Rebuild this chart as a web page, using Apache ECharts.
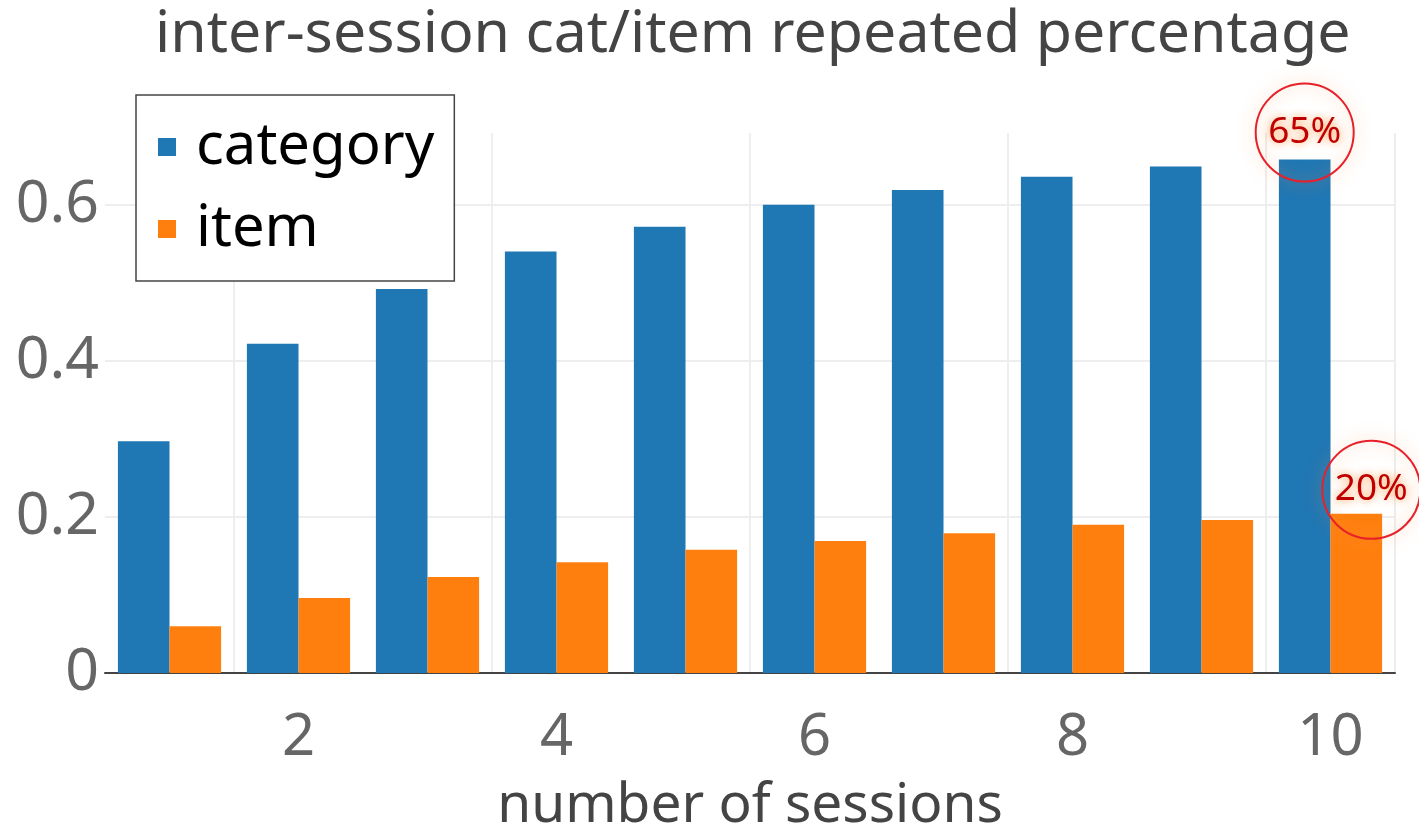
<!DOCTYPE html>
<html>
<head>
<meta charset="utf-8">
<script src="https://cdn.jsdelivr.net/npm/echarts@6/dist/echarts.min.js"></script>
<style>
  html, body { margin: 0; padding: 0; background: #fff; }
  #chart { width: 1419px; height: 830px; }
</style>
</head>
<body>
<div id="chart"></div>
<script>
const sessions = ['1', '2', '3', '4', '5', '6', '7', '8', '9', '10']
const categoryRepeat = [0.297, 0.422, 0.492, 0.540, 0.572, 0.600, 0.619, 0.636, 0.649, 0.658]
const itemRepeat = [0.060, 0.096, 0.123, 0.142, 0.158, 0.169, 0.179, 0.190, 0.196, 0.204]
const annoLabels = ['65%', '20%']

const font = 'Noto Sans'
const evenOnly = (i) => i % 2 === 1

function annotation(text, value, offset) {
  return {
    coord: [sessions.length - 1, value],
    symbol: 'circle',
    symbolSize: 98,
    symbolOffset: offset,
    itemStyle: {
      color: 'rgba(0,0,0,0)',
      borderColor: '#e8202a',
      borderWidth: 2,
      shadowBlur: 16,
      shadowColor: 'rgba(255,150,80,0.7)'
    },
    label: {
      show: true,
      position: 'inside',
      formatter: text,
      color: '#c00000',
      fontFamily: font,
      fontSize: 37,
      textShadowColor: 'rgba(255,150,70,1)',
      textShadowBlur: 8
    }
  }
}

const chart = echarts.init(document.getElementById('chart'))

const option = {
  animation: false,
  title: {
    text: 'inter-session cat/item repeated percentage',
    left: 150,
    top: 1,
    textStyle: {
      color: '#444',
      fontFamily: font,
      fontWeight: 'normal',
      fontSize: 59
    }
  },
  legend: {
    orient: 'vertical',
    left: 136,
    top: 95,
    data: ['category', 'item'],
    icon: 'rect',
    itemWidth: 18,
    itemHeight: 18,
    itemGap: 24,
    padding: [23, 20, 23, 22],
    borderColor: '#444',
    borderWidth: 1.5,
    backgroundColor: '#fff',
    textStyle: {
      color: '#000',
      fontFamily: font,
      fontSize: 58,
      padding: [0, 0, 0, 15]
    }
  },
  grid: {
    left: 105,
    right: 24,
    top: 133,
    bottom: 157,
    outerBoundsMode: 'none'
  },
  xAxis: {
    type: 'category',
    data: sessions,
    name: 'number of sessions',
    nameLocation: 'middle',
    nameGap: 106,
    nameTextStyle: {
      color: '#444',
      fontFamily: font,
      fontSize: 55
    },
    axisLine: { lineStyle: { color: '#444', width: 2 } },
    axisTick: {
      alignWithLabel: true,
      interval: evenOnly,
      length: 8,
      lineStyle: { color: '#444', width: 2 }
    },
    axisLabel: {
      interval: evenOnly,
      margin: 36,
      color: '#666',
      fontFamily: font,
      fontSize: 58
    },
    splitLine: {
      show: true,
      interval: evenOnly,
      lineStyle: { color: '#eee', width: 2 }
    }
  },
  yAxis: {
    type: 'value',
    min: 0,
    max: 0.692,
    interval: 0.2,
    axisLine: { show: false },
    axisTick: { show: false },
    axisLabel: {
      showMaxLabel: false,
      margin: 6,
      color: '#666',
      fontFamily: font,
      fontSize: 59,
      formatter: (v) => (v === 0 ? '0' : v.toFixed(1))
    },
    splitLine: {
      showMaxLine: false,
      lineStyle: { color: '#eee', width: 2 }
    }
  },
  series: [
    {
      name: 'category',
      type: 'bar',
      data: categoryRepeat,
      barGap: '0%',
      barCategoryGap: '20%',
      itemStyle: { color: '#1f77b4' },
      markPoint: {
        data: [annotation(annoLabels[0], categoryRepeat[9], [0, -27])]
      }
    },
    {
      name: 'item',
      type: 'bar',
      data: itemRepeat,
      barGap: '0%',
      barCategoryGap: '20%',
      itemStyle: { color: '#ff7f0e' },
      markPoint: {
        data: [annotation(annoLabels[1], itemRepeat[9], [15, -24])]
      }
    }
  ]
}

chart.setOption(option)
</script>
</body>
</html>
